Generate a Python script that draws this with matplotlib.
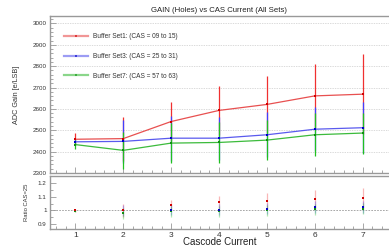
import matplotlib

matplotlib.use("Agg")
import matplotlib.pyplot as plt
from matplotlib.ticker import MultipleLocator
import numpy as np

plt.rcParams["font.family"] = ["Liberation Sans", "DejaVu Sans"]

cascode = [1, 2, 3, 4, 5, 6, 7]

# gain per buffer set, with errors
set1_gain = [2458, 2461, 2541, 2593, 2621, 2661, 2669]
set1_err = [28, 103, 92, 116, 134, 148, 188]
set3_gain = [2446, 2448, 2463, 2463, 2479, 2505, 2512]
set3_err = [15, 100, 105, 100, 105, 104, 120]
set7_gain = [2433, 2406, 2440, 2443, 2454, 2479, 2487]
set7_err = [20, 88, 92, 94, 94, 100, 96]

# ratio to first point
set1_ratio = [1.0, 1.0, 1.04, 1.06, 1.07, 1.085, 1.09]
set1_ratio_err = [0.01, 0.045, 0.035, 0.045, 0.06, 0.065, 0.075]
set3_ratio = [1.0, 1.0, 1.005, 1.005, 1.012, 1.025, 1.027]
set3_ratio_err = [0.006, 0.04, 0.04, 0.04, 0.04, 0.042, 0.045]
set7_ratio = [0.995, 0.98, 0.995, 0.995, 1.0, 1.01, 1.012]
set7_ratio_err = [0.008, 0.04, 0.04, 0.04, 0.04, 0.04, 0.04]

labels = [
    "Buffer Set1: (CAS = 09 to 15)",
    "Buffer Set3: (CAS = 25 to 31)",
    "Buffer Set7: (CAS = 57 to 63)",
]
line_colors = ["#e85050", "#5a5aee", "#3cbb3c"]
bar_colors = ["#f03030", "#4040ff", "#20c020"]
mark_colors = ["#d00000", "#0000c8", "#109010"]
frame = "#999999"


def style_axis(ax):
    for side in ("left", "bottom", "top"):
        ax.spines[side].set_color(frame)
        ax.spines[side].set_linewidth(1.0)
    ax.spines["right"].set_visible(False)
    ax.tick_params(which="both", direction="in", colors=frame, labelcolor="#333333",
                   labelsize=4.5, pad=2.5, width=0.6)
    ax.tick_params(which="major", length=4.5)
    ax.tick_params(which="minor", length=2.3)
    ax.xaxis.set_major_locator(MultipleLocator(1))
    ax.xaxis.set_minor_locator(MultipleLocator(0.2))
    ax.set_xlim(0.47, 7.55)


fig = plt.figure(figsize=(3.89, 2.48), dpi=100)
ax = fig.add_axes([0.1285, 0.3024, 0.8715, 0.6331])
rax = fig.add_axes([0.1285, 0.0766, 0.8715, 0.2137])

gains = [set1_gain, set3_gain, set7_gain]
errs = [set1_err, set3_err, set7_err]
ratios = [set1_ratio, set3_ratio, set7_ratio]
ratio_errs = [set1_ratio_err, set3_ratio_err, set7_ratio_err]
sizes = [2.0, 2.0, 1.5]

handles = []
# red first, green ends up on top (as in the original)
for i in (0, 1, 2):
    ax.errorbar(cascode, gains[i], yerr=errs[i], fmt="none", ecolor=bar_colors[i],
                elinewidth=0.9, zorder=2)
    rax.errorbar(cascode, ratios[i], yerr=ratio_errs[i], fmt="none", ecolor=bar_colors[i],
                 elinewidth=0.9, alpha=0.35, zorder=2)
for i in range(3):
    (h,) = ax.plot(cascode, gains[i], color=line_colors[i], lw=0.9, marker="s",
                   ms=sizes[i], mew=0, mfc=mark_colors[i], zorder=3, label=labels[i])
    handles.append(h)
for i in (2, 1, 0):
    rax.plot(cascode, ratios[i], ls="none", marker="s", ms=sizes[i], mew=0,
             mfc=mark_colors[i], zorder=3)

style_axis(ax)
ax.set_ylim(2300, 3035)
ax.yaxis.set_major_locator(MultipleLocator(100))
ax.yaxis.set_minor_locator(MultipleLocator(20))
ax.tick_params(axis="x", labelbottom=False)
ax.grid(axis="y", which="major", color="#cccccc", ls=(0, (2, 1.5)), lw=0.5)
ax.set_ylabel("ADC Gain [e/LSB]", fontsize=5.2, color="#333333", labelpad=9)
ax.set_title("GAIN (Holes) vs CAS Current (All Sets)", fontsize=5.6, color="#222222", pad=3)

leg = ax.legend(handles=handles, loc="upper left", bbox_to_anchor=(0.164, 0.866),
                bbox_transform=fig.transFigure, frameon=False, fontsize=4.7,
                borderpad=0, borderaxespad=0, labelspacing=1.95, handlelength=3.7,
                handletextpad=0.8)
for t in leg.get_texts():
    t.set_color("#333333")
for lh in leg.legend_handles:
    lh.set_linewidth(1.6)
    lh.set_alpha(0.6)

style_axis(rax)
rax.set_ylim(0.865, 1.25)
rax.yaxis.set_minor_locator(MultipleLocator(0.05))
rax.set_yticks([0.9, 1.0, 1.1, 1.2], ["0.9", "1", "1.1", "1.2"])
rax.axhline(1.0, color="#999999", ls=(0, (2, 1.5)), lw=0.6, zorder=1)
rax.tick_params(axis="x", labelsize=6, pad=2)
rax.set_ylabel("Ratio CAS=25", fontsize=4.2, color="#333333", labelpad=6)
rax.set_xlabel("Cascode Current", fontsize=7, color="#222222", labelpad=-1)

fig.savefig("out.png", dpi=100)
